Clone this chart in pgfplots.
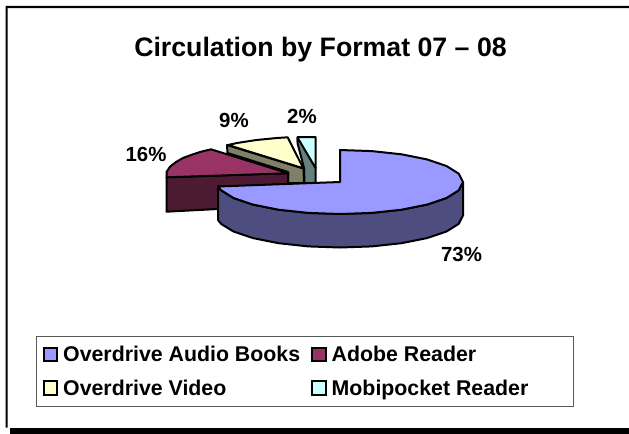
\documentclass[border=0pt]{standalone}
\usepackage{pgfplots}
\pgfplotsset{compat=1.18}
\usepackage{fontspec}
\setmainfont{Liberation Sans}
\definecolor{cblue}{HTML}{9999FF}
\definecolor{cblued}{HTML}{4D4D80}
\definecolor{cmar}{HTML}{993366}
\definecolor{cmard}{HTML}{4D1A33}
\definecolor{cyel}{HTML}{FFFFCC}
\definecolor{cyeld}{HTML}{808066}
\definecolor{ccya}{HTML}{CCFFFF}
\definecolor{ccyad}{HTML}{668080}
\begin{document}
\begin{tikzpicture}
\begin{axis}[
  scale only axis, width=629bp, height=434bp,
  xmin=0, xmax=629, ymin=0, ymax=434, y dir=reverse,
  hide axis, clip=true,
]
% page
\addplot[forget plot, draw=none, fill=white] coordinates {(0,0)(629,0)(629,434)(0,434)} -- cycle;
% frame
\addplot[forget plot, draw=none, fill=black] coordinates {(5.5,6)(629,6)(629,8.2)(7.6,8.2)(7.6,427.5)(5.5,427.5)} -- cycle;
\addplot[forget plot, draw=none, fill=black] coordinates {(10,427.8)(629,427.8)(629,434)(10,434)} -- cycle;
% mobipocket
\addplot[forget plot, draw=black, line width=2bp, line join=round, fill=ccya] coordinates {(297.5,137)(315.5,137)(315.5,168)(297.5,141)} -- cycle;
\addplot[forget plot, draw=black, line width=2bp, line join=round, fill=ccyad] coordinates {(297.5,137.5)(315.5,168)(315.5,183)(304.5,183)(304,168)(297.5,143)} -- cycle;
% video
\addplot[forget plot, draw=black, line width=2bp, line join=round, fill=cyeld] coordinates {(227,145)(303.5,168.5)(304,183)(288,183)(288,172)(227.5,153)} -- cycle;
\addplot[forget plot, draw=black, line width=2bp, line join=round, fill=cyel] coordinates {(228,145)(237,143)(246.7,141.5)(256.5,140)(266.7,139)(277,138)(287.7,137.3)(303.3,168.3)} -- cycle;
% adobe
\addplot[forget plot, draw=black, line width=2bp, line join=round, fill=cmard] coordinates {(166.5,177.3)(288,173)(288,207)(218,209)(166.5,211.7)} -- cycle;
\addplot[forget plot, draw=black, line width=2bp, line join=round, fill=cmar] coordinates {(166.5,177.3)(166.5,172)(170,166.7)(176,162)(183,158)(191,155)(200,152)(211,149.3)(288.3,173.3)} -- cycle;
% overdrive audio books: side, then top
\addplot[forget plot, draw=black, line width=2bp, line join=round, fill=cblued] coordinates {(463,182)(458.8,190.3)(446.5,198)(427,204.6)(401.5,209.7)(371.8,212.9)(340,214)(308.2,212.9)(278.5,209.7)(253,204.6)(233.5,198)(221.2,190.3)(218,186)
 (218,220)(221.2,224)(233.5,231.5)(253,238.1)(278.5,243.2)(308.2,246.4)(340,247.5)(371.8,246.4)(401.5,243.2)(427,238.1)(446.5,231.5)(458.8,223.8)(463,215.5)} -- cycle;
\addplot[forget plot, draw=black, line width=2bp, line join=round, fill=cblue] coordinates {(340,150)(371.8,151.1)(401.5,154.3)(427,159.4)(446.5,166)(458.8,173.7)(463,182)(458.8,190.3)(446.5,198)(427,204.6)(401.5,209.7)(371.8,212.9)(340,214)(308.2,212.9)(278.5,209.7)(253,204.6)(233.5,198)(221.2,190.3)(218,186.5)(340,182)} -- cycle;
% legend box and swatches
\addplot[forget plot, draw=black!65, line width=0.8bp] coordinates {(36,336.7)(573,336.7)(573,406)(36,406)} -- cycle;
\addplot[forget plot, draw=black, line width=2bp, fill=cblue] coordinates {(44.3,347.7)(57.3,347.7)(57.3,361.3)(44.3,361.3)} -- cycle;
\addplot[forget plot, draw=black, line width=2bp, fill=cmar] coordinates {(312,347.7)(326.3,347.7)(326.3,361.3)(312,361.3)} -- cycle;
\addplot[forget plot, draw=black, line width=2bp, fill=cyel] coordinates {(44.3,381)(57.3,381)(57.3,395)(44.3,395)} -- cycle;
\addplot[forget plot, draw=black, line width=2bp, fill=ccya] coordinates {(312,381)(326.3,381)(326.3,395)(312,395)} -- cycle;
% legend text
\def\lf{\fontsize{21.4}{25}\selectfont\bfseries}
\node[font=\lf,anchor=base west,inner sep=0pt] at (axis cs:63,361.7) {Overdrive Audio Books};
\node[font=\lf,anchor=base west,inner sep=0pt] at (axis cs:331.5,361.7) {Adobe Reader};
\node[font=\lf,anchor=base west,inner sep=0pt] at (axis cs:63,395.7) {Overdrive Video};
\node[font=\lf,anchor=base west,inner sep=0pt] at (axis cs:331.5,395.7) {Mobipocket Reader};
% labels
\node[font=\fontsize{26.8}{30}\selectfont\bfseries,anchor=base,inner sep=0pt] at (axis cs:320.5,56.7) {Circulation by Format 07 – 08};
\node[font=\fontsize{20.5}{24}\selectfont\bfseries] at (axis cs:146,154) {16\%};
\node[font=\fontsize{20.5}{24}\selectfont\bfseries] at (axis cs:234,120) {9\%};
\node[font=\fontsize{20.5}{24}\selectfont\bfseries] at (axis cs:302,116) {2\%};
\node[font=\fontsize{20.5}{24}\selectfont\bfseries] at (axis cs:461.5,254) {73\%};
\end{axis}
\end{tikzpicture}
\end{document}
